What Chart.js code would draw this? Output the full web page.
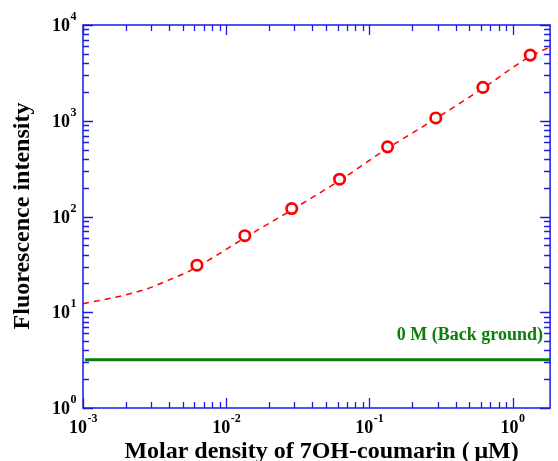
<!DOCTYPE html>
<html>
<head>
<meta charset="utf-8">
<script src="https://cdn.jsdelivr.net/npm/chart.js@4.4.1/dist/chart.umd.min.js"></script>
<style>
  html, body { margin: 0; padding: 0; background: #fff; }
  #wrap { width: 558px; height: 461px; }
</style>
</head>
<body>
<div id="wrap"><canvas id="chart"></canvas></div>
<script>
// measured points (circles)
const concX = [0.00625, 0.0135, 0.0287, 0.0619, 0.134, 0.291, 0.621, 1.33];
const fluor = [31, 63, 121, 245, 534, 1070, 2230, 4850];
// dashed fit curve
const fitX = [0.001, 0.0016, 0.0022, 0.00275, 0.0033, 0.004, 0.0055, 0.0085, 0.0135, 0.0287, 0.062, 0.134, 0.29, 0.62, 1.33, 1.83];
const fitY = [12.3, 14.1, 15.8, 17.4, 19.3, 21.8, 26.8, 39, 60, 117, 238, 515, 1050, 2180, 4700, 5900];
// background level (0 M)
const bgX = [0.00103, 1.83];
const bgY = [3.2, 3.2];
const xRange = [0.001, 1.83];
const yRange = [1, 10000];
const xExps = [-3, -2, -1, 0];
const yExps = [0, 1, 2, 3, 4];
const xTitle = "Molar density of 7OH-coumarin (\u2009\u03bcM)";
const yTitle = "Fluorescence intensity";
const bgLabel = "0 M (Back ground)";

const BLUE = "#1a1ae6";
const RED = "#ff0000";
const GREEN = "#0a800a";
const SERIF = '"Liberation Serif", "Times New Roman", serif';

const pts = (xs, ys) => xs.map((x, i) => ({ x: x, y: ys[i] }));

const isPow10 = (v) => Math.abs(Math.log10(v) - Math.round(Math.log10(v))) < 1e-6;
const isIntSig = (v) => {
  const s = v / Math.pow(10, Math.floor(Math.log10(v) + 1e-9));
  return Math.abs(s - Math.round(s)) < 1e-6;
};

// 10^n labels
const drawPow = (ctx, exp, x, y, supDy, align) => {
  ctx.font = "bold 18px " + SERIF;
  const w1 = ctx.measureText("10").width;
  ctx.font = "bold 12px " + SERIF;
  const w2 = ctx.measureText(String(exp)).width;
  let left = align === "right" ? x - w1 - w2 : x - (w1 + w2) / 2;
  ctx.textAlign = "left";
  ctx.textBaseline = "alphabetic";
  ctx.font = "bold 18px " + SERIF;
  ctx.fillText("10", left, y);
  ctx.font = "bold 12px " + SERIF;
  ctx.fillText(String(exp), left + w1 + 0.5, y + supDy);
};

const framePlugin = {
  id: "frame",
  afterDraw(chart) {
    const ctx = chart.ctx;
    const a = chart.chartArea;
    const xs = chart.scales.x, ys = chart.scales.y;
    ctx.save();
    ctx.strokeStyle = BLUE;
    ctx.lineWidth = 1.5;
    ctx.strokeRect(a.left, a.top, a.right - a.left, a.bottom - a.top);

    ctx.lineWidth = 1.3;
    ctx.beginPath();
    xs.ticks.forEach(t => {
      const v = t.value;
      if (v < xRange[0] || v > xRange[1] || !isIntSig(v)) return;
      const px = Math.round(xs.getPixelForValue(v)) + 0.5;
      const len = isPow10(v) ? 10 : 6;
      ctx.moveTo(px, a.bottom); ctx.lineTo(px, a.bottom - len);
      ctx.moveTo(px, a.top); ctx.lineTo(px, a.top + len);
    });
    ys.ticks.forEach(t => {
      const v = t.value;
      if (v < yRange[0] || v > yRange[1] || !isIntSig(v)) return;
      const py = Math.round(ys.getPixelForValue(v)) + 0.5;
      const len = isPow10(v) ? 10 : 6;
      ctx.moveTo(a.left, py); ctx.lineTo(a.left + len, py);
      ctx.moveTo(a.right, py); ctx.lineTo(a.right - len, py);
    });
    ctx.stroke();

    ctx.fillStyle = "#000";
    xExps.forEach(e => {
      const px = xs.getPixelForValue(Math.pow(10, e));
      drawPow(ctx, e, px, 433, -11, "center");
    });
    yExps.forEach(e => {
      const py = ys.getPixelForValue(Math.pow(10, e));
      drawPow(ctx, e, 76, py + 6, -11, "right");
    });

    // axis titles
    ctx.font = "bold 24px " + SERIF;
    ctx.textAlign = "center";
    ctx.textBaseline = "alphabetic";
    ctx.fillText(xTitle, (a.left + a.right) / 2 + 5, 458);
    ctx.save();
    ctx.translate(29, 216);
    ctx.rotate(-Math.PI / 2);
    ctx.fillText(yTitle, 0, 0);
    ctx.restore();

    // background label
    ctx.fillStyle = GREEN;
    ctx.font = "bold 18px " + SERIF;
    ctx.textAlign = "right";
    ctx.fillText(bgLabel, 543, 340);
    ctx.restore();
  }
};

new Chart(document.getElementById("chart"), {
  type: "scatter",
  data: {
    datasets: [
      {
        label: "points",
        data: pts(concX, fluor),
        showLine: false,
        pointStyle: "circle",
        pointRadius: 5.2,
        pointBorderWidth: 2.7,
        pointBorderColor: RED,
        pointBackgroundColor: "#fff",
        order: 0
      },
      {
        label: "fit",
        data: pts(fitX, fitY),
        showLine: true,
        borderColor: RED,
        borderWidth: 1.5,
        borderDash: [6, 5],
        pointRadius: 0,
        cubicInterpolationMode: "monotone",
        order: 1
      },
      {
        label: "background",
        data: pts(bgX, bgY),
        showLine: true,
        borderColor: GREEN,
        borderWidth: 3,
        pointRadius: 0,
        order: 2
      }
    ]
  },
  options: {
    responsive: true,
    maintainAspectRatio: false,
    animation: false,
    layout: { padding: { top: 25, right: 2, left: 0, bottom: 0 } },
    plugins: { legend: { display: false }, tooltip: { enabled: false } },
    scales: {
      x: {
        type: "logarithmic",
        min: xRange[0],
        max: xRange[1],
        ticks: { display: false },
        grid: { display: false },
        border: { display: false },
        afterFit: (s) => { s.height = 53; }
      },
      y: {
        type: "logarithmic",
        min: yRange[0],
        max: yRange[1],
        ticks: { display: false },
        grid: { display: false },
        border: { display: false },
        afterFit: (s) => { s.width = 83; }
      }
    }
  },
  plugins: [framePlugin]
});
</script>
</body>
</html>
